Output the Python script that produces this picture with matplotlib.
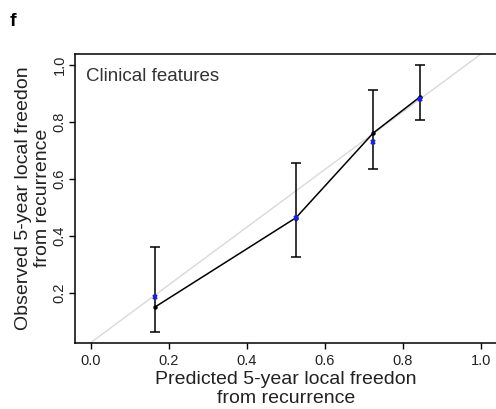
import matplotlib
matplotlib.use("Agg")
import matplotlib.pyplot as plt

plt.rcParams["font.family"] = ["Liberation Sans", "DejaVu Sans"]

# calibration groups
predicted = [0.166, 0.526, 0.724, 0.845]
observed = [0.152, 0.464, 0.761, 0.889]
observed_low = [0.064, 0.327, 0.635, 0.806]
observed_high = [0.362, 0.655, 0.912, 1.000]
corrected = [0.187, 0.464, 0.730, 0.881]

# reference line
ideal_x = [0.0, 1.0]
ideal_y = [0.026, 1.038]

x_ticks = [0.0, 0.2, 0.4, 0.6, 0.8, 1.0]
y_ticks = [0.2, 0.4, 0.6, 0.8, 1.0]

fig = plt.figure(figsize=(4.96, 4.09), dpi=100)
ax = fig.add_axes([75 / 496, 1 - 342.7 / 409, 421.6 / 496, 288.7 / 409])

ax.plot(ideal_x, ideal_y, color="#d9d9d9", lw=1.0, zorder=1)

err_lo = [o - l for o, l in zip(observed, observed_low)]
err_hi = [h - o for o, h in zip(observed, observed_high)]
ax.errorbar(predicted, observed, yerr=[err_lo, err_hi], fmt="none",
            ecolor="black", elinewidth=1.1, capsize=3.5, capthick=1.1, zorder=2)
ax.plot(predicted, observed, color="black", lw=1.1, marker="o", ms=2.2, zorder=3)
ax.plot(predicted, corrected, ls="none", marker="x", color="#1a1aff",
        ms=3, mew=1.5, zorder=4)

ax.set_xlim(-0.04, 1.04)
ax.set_ylim(0.026, 1.038)
ax.set_xticks(x_ticks)
ax.set_xticklabels([f"{v:.1f}" for v in x_ticks])
ax.set_yticks(y_ticks)
ax.set_yticklabels([f"{v:.1f}" for v in y_ticks], rotation=90, va="center")
ax.tick_params(direction="out", length=4, width=1, labelsize=10.5, colors="black",
               labelcolor="#222222")
ax.tick_params(axis="x", pad=4)
ax.tick_params(axis="y", pad=2)
for s in ax.spines.values():
    s.set_linewidth(1.1)

ax.text(-0.013, 0.99, "Clinical features", fontsize=13.5, color="#333333",
        ha="left", va="top", transform=ax.transData)

ax.set_xlabel("Predicted 5-year local freedon\nfrom recurrence", fontsize=14,
              color="#222222", linespacing=1.15, labelpad=2)
ax.set_ylabel("Observed 5-year local freedon\nfrom recurrence", fontsize=14,
              color="#222222", linespacing=1.15, labelpad=1)

fig.text(10 / 496, 1 - 22 / 409, "f", fontsize=14, fontweight="bold",
         ha="left", va="center")

fig.savefig("out.png", dpi=100, facecolor="white")
